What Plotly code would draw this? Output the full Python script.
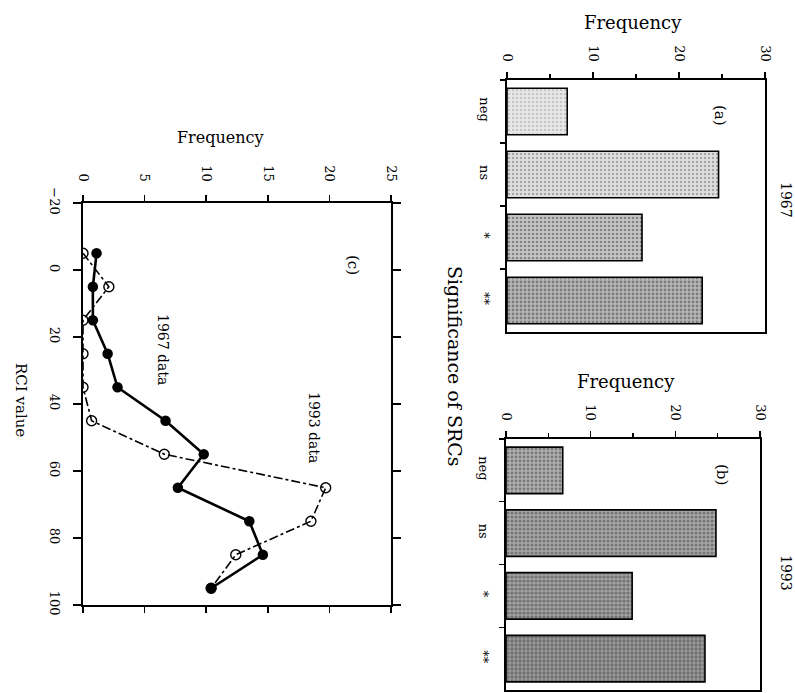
import plotly.graph_objects as go

W, H = 795, 693

# ---- data ----
categories = ["neg", "ns", "*", "**"]
freq_1967 = [7.0, 24.6, 15.7, 22.7]
freq_1993 = [6.7, 24.8, 14.9, 23.5]

rci_bins = [-5, 5, 15, 25, 35, 45, 55, 65, 75, 85, 95]
rci_freq_1967 = [1.1, 0.8, 0.8, 2.0, 2.8, 6.7, 9.8, 7.7, 13.5, 14.6, 10.4]
rci_freq_1993 = [0.0, 2.1, 0.0, 0.0, 0.0, 0.7, 6.6, 19.7, 18.5, 12.4, 10.4]

FONT = "DejaVu Serif"


def px_x(x):
    return x / W


def px_y(y):
    return 1 - y / H


fig = go.Figure()

# bar panels
bg_a = ["#e6e6e6", "#dcdcdc", "#c4c4c4", "#b8b8b8"]
sol_a = [0.12, 0.18, 0.35, 0.42]
bg_b = ["#b0b0b0", "#a8a8a8", "#a0a0a0", "#9c9c9c"]
sol_b = [0.42, 0.47, 0.5, 0.52]

for vals, bg, sol, xa, ya in [
    (freq_1967, bg_a, sol_a, "x", "y"),
    (freq_1993, bg_b, sol_b, "x2", "y2"),
]:
    fig.add_trace(go.Bar(
        x=vals, y=categories, orientation="h", width=0.74,
        marker=dict(
            color=bg,
            line=dict(color="black", width=1.6),
            pattern=dict(shape=".", fgcolor="#1a1a1a", bgcolor=bg,
                         size=4, solidity=sol),
        ),
        xaxis=xa, yaxis=ya, showlegend=False, hoverinfo="skip",
    ))

# line panel (c)
fig.add_trace(go.Scatter(
    x=rci_freq_1993, y=rci_bins, mode="lines+markers",
    line=dict(color="black", width=1.6, dash="dashdot"),
    marker=dict(symbol="circle-open", size=10, color="black",
                line=dict(width=1.4)),
    xaxis="x3", yaxis="y3", showlegend=False, hoverinfo="skip",
))
fig.add_trace(go.Scatter(
    x=rci_freq_1967, y=rci_bins, mode="lines+markers",
    line=dict(color="black", width=2.6),
    marker=dict(symbol="circle", size=10.5, color="black"),
    xaxis="x3", yaxis="y3", showlegend=False, hoverinfo="skip",
))

tickfont = dict(family=FONT, size=13, color="black")

bar_x = dict(range=[0, 30], side="top", tickvals=[0, 10, 20, 30],
             tickangle=90, ticks="outside", ticklen=6, tickwidth=1.5,
             ticklabelstandoff=6,
             minor=dict(tickvals=[5, 15, 25], ticks="outside", ticklen=4,
                        tickwidth=1.2, tickcolor="black"),
             showline=True, linecolor="black", linewidth=1.6, mirror=True,
             showgrid=False, zeroline=False, tickfont=tickfont,
             tickcolor="black", automargin=False)
bar_y = dict(type="category", autorange="reversed", tickangle=90,
             ticks="outside", ticklen=5, tickwidth=1.2, tickcolor="black",
             ticklabelstandoff=10,
             tickson="boundaries", showline=True, linecolor="black",
             linewidth=1.6, mirror=True, showgrid=False,
             tickfont=tickfont, automargin=False)

fig.update_layout(
    width=W, height=H, autosize=False,
    margin=dict(l=0, r=0, t=0, b=0, pad=0, autoexpand=False),
    paper_bgcolor="white", plot_bgcolor="white",
    font=dict(family=FONT, color="black"),
    xaxis=dict(domain=[px_x(507), px_x(765)], anchor="y", **bar_x),
    yaxis=dict(domain=[px_y(332), px_y(80)], anchor="x", **bar_y),
    xaxis2=dict(domain=[px_x(506), px_x(760)], anchor="y2", **bar_x),
    yaxis2=dict(domain=[px_y(690), px_y(439)], anchor="x2", **bar_y),
    xaxis3=dict(domain=[px_x(83), px_x(391)], anchor="y3", range=[0, 25],
                side="top", tickvals=[0, 5, 10, 15, 20, 25], tickangle=90,
                ticks="outside", ticklen=6, tickwidth=1.5, tickcolor="black",
                ticklabelstandoff=9,
                showline=True, linecolor="black", linewidth=1.6,
                mirror="ticks", showgrid=False, zeroline=False,
                tickfont=tickfont, automargin=False),
    yaxis3=dict(domain=[px_y(605), px_y(203)], anchor="x3",
                range=[100, -20], tickvals=[-20, 0, 20, 40, 60, 80, 100],
                tickangle=90, ticks="outside", ticklen=8, tickwidth=1.5,
                ticklabelstandoff=8,
                tickcolor="black", showline=True, linecolor="black",
                linewidth=1.6, mirror="ticks", showgrid=False,
                zeroline=False, tickfont=tickfont, automargin=False),
)


def note(text, x, y, size, angle=0):
    fig.add_annotation(text=text, x=px_x(x), y=px_y(y), xref="paper",
                       yref="paper", showarrow=False, textangle=angle,
                       font=dict(family=FONT, size=size, color="black"),
                       xanchor="center", yanchor="middle")


note("Frequency", 633, 22, 18)
note("Frequency", 626, 381, 18)
note("Frequency", 220, 137, 16)
note("Significance of SRCs", 455, 366, 19, 90)
note("RCI value", 21, 400, 15, 90)
note("1967", 786, 200, 14, 90)
note("1993", 786, 573, 14, 90)
note("(a)", 720, 115, 15, 90)
note("(b)", 722, 474, 15, 90)
note("(c)", 353, 265, 15, 90)
note("1967 data", 163, 349, 14, 90)
note("1993 data", 314, 427, 14, 90)

fig.write_html(
    "out.html",
    config={"displayModeBar": False, "staticPlot": True},
    post_script="document.body.style.margin='0';"
                "document.body.style.overflow='hidden';",
)
